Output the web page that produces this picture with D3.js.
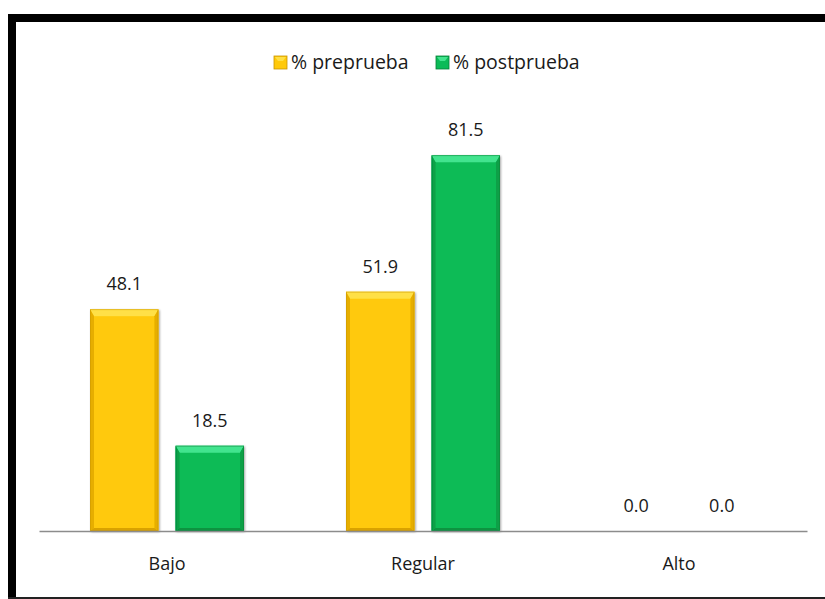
<!DOCTYPE html>
<html>
<head>
<meta charset="utf-8">
<script src="https://cdn.jsdelivr.net/npm/d3@7/dist/d3.min.js"></script>
<style>
  html, body { margin: 0; padding: 0; background: #fff; }
  svg { display: block; }
  text { font-family: "Open Sans", "DejaVu Sans", sans-serif; fill: #1a1a1a; }
</style>
</head>
<body>
<script>
const categories = ["Bajo", "Regular", "Alto"];
const seriesNames = ["% preprueba", "% postprueba"];
const preprueba = [48.1, 51.9, 0.0];
const postprueba = [18.5, 81.5, 0.0];

const W = 825, H = 599;
const svg = d3.select("body").append("svg").attr("width", W).attr("height", H);

const defs = svg.append("defs");
const palettes = [
  { main: "#FFC90A", top: "#FFE046", side: "#E6AE00", bottom: "#D9A200", edge: "#C89500" },
  { main: "#0CBB57", top: "#43E48E", side: "#08A047", bottom: "#07933F", edge: "#067F37" }
];
const shadow = defs.append("filter").attr("id", "sh").attr("x", "-10%").attr("y", "-10%").attr("width", "130%").attr("height", "130%");
shadow.append("feGaussianBlur").attr("in", "SourceAlpha").attr("stdDeviation", 1.2).attr("result", "b");
shadow.append("feOffset").attr("dx", 1).attr("dy", 1).attr("result", "o");
shadow.append("feComponentTransfer").append("feFuncA").attr("type", "linear").attr("slope", 0.35);
const m = shadow.append("feMerge");
m.append("feMergeNode");
m.append("feMergeNode").attr("in", "SourceGraphic");

// frame
svg.append("rect").attr("x", 8).attr("y", 14).attr("width", W - 8).attr("height", 8).attr("fill", "#000");
svg.append("rect").attr("x", 8).attr("y", 14).attr("width", 8).attr("height", H - 14).attr("fill", "#000");
svg.append("rect").attr("x", 8).attr("y", 597).attr("width", W - 8).attr("height", 2).attr("fill", "#222");

const x0 = d3.scaleBand().domain(categories).range([39, 807]).paddingInner(0).paddingOuter(0);
const x1 = d3.scaleBand().domain(seriesNames).range([51, x0.bandwidth() - 51]).paddingInner(0.2);
const y = d3.scaleLinear().domain([0, 90]).range([531, 116]);

const data = categories.map((c, i) => ({ cat: c, vals: [preprueba[i], postprueba[i]] }));

const g = svg.append("g");
data.forEach(d => {
  d.vals.forEach((v, si) => {
    const bx = x0(d.cat) + x1(seriesNames[si]);
    const bw = x1.bandwidth();
    const by = y(v), bh = y(0) - y(v);
    const p = palettes[si];
    if (bh > 0) {
      const bg = g.append("g").attr("filter", "url(#sh)");
      bg.append("rect").attr("x", bx).attr("y", by).attr("width", bw).attr("height", bh).attr("fill", p.main);
      const bev = Math.min(7, bh / 2);
      const sw = 4;
      bg.append("polygon").attr("points", [[bx, by], [bx + bw, by], [bx + bw - sw, by + bev], [bx + sw, by + bev]].map(q => q.join(",")).join(" ")).attr("fill", p.top);
      bg.append("polygon").attr("points", [[bx, by], [bx + sw, by + bev], [bx + sw, by + bh - 3], [bx, by + bh]].map(q => q.join(",")).join(" ")).attr("fill", p.side);
      bg.append("polygon").attr("points", [[bx + bw, by], [bx + bw - sw, by + bev], [bx + bw - sw, by + bh - 3], [bx + bw, by + bh]].map(q => q.join(",")).join(" ")).attr("fill", p.side);
      bg.append("polygon").attr("points", [[bx, by + bh], [bx + sw, by + bh - 3], [bx + bw - sw, by + bh - 3], [bx + bw, by + bh]].map(q => q.join(",")).join(" ")).attr("fill", p.bottom);
      bg.append("rect").attr("x", bx + 0.5).attr("y", by + 0.5).attr("width", bw - 1).attr("height", bh - 1).attr("fill", "none").attr("stroke", p.edge).attr("stroke-width", 0.8).attr("opacity", 0.6);
    }
    g.append("text").attr("x", bx + bw / 2).attr("y", by - 19)
      .attr("text-anchor", "middle").attr("font-size", 18).text(v.toFixed(1));
  });
});

// axis
const axis = d3.axisBottom(x0).tickSize(0).tickPadding(26);
const ax = svg.append("g").attr("transform", "translate(0,531)").call(axis);
ax.select(".domain").attr("stroke", "#8c8c8c").attr("stroke-width", 1.5);
ax.selectAll("text").attr("font-size", 18).attr("fill", "#1a1a1a")
  .style("font-family", "'Open Sans', sans-serif");

// legend
const legend = svg.append("g");
const legendX = [274, 436];
seriesNames.forEach((s, i) => {
  const lg = legend.append("g").attr("transform", `translate(${legendX[i]},56)`);
  const p = palettes[i];
  lg.append("rect").attr("width", 13).attr("height", 13).attr("fill", p.main).attr("stroke", p.edge).attr("stroke-width", 0.8);
  lg.append("polygon").attr("points", "1,1 12,1 9,5 4,5").attr("fill", p.top);
  lg.append("text").attr("x", 17).attr("y", 13).attr("font-size", 19.5).text(s);
});
</script>
</body>
</html>
